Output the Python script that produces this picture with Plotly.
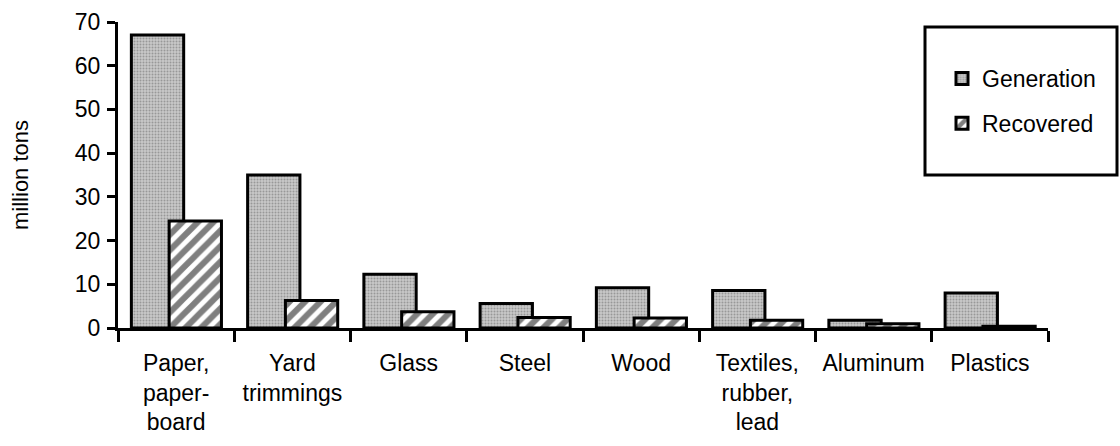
import plotly.graph_objects as go

categories = ["Paper,<br>paper-<br>board", "Yard<br>trimmings", "Glass", "Steel", "Wood",
              "Textiles,<br>rubber,<br>lead", "Aluminum", "Plastics"]
generation = [67.0, 35.0, 12.3, 5.6, 9.2, 8.6, 1.8, 8.0]
recovered = [24.5, 6.3, 3.7, 2.4, 2.3, 1.8, 1.0, 0.4]
y_ticks = [0, 10, 20, 30, 40, 50, 60, 70]

FONT = "Liberation Sans, Arial, Helvetica, sans-serif"
W, H = 1120, 446
L, R, T, B = 118, 72, 22, 118
pw, ph = W - L - R, H - T - B

def px_x(p):
    return (p - L) / pw

def px_y(p):
    return (H - B - p) / ph

fig = go.Figure()
fig.add_trace(go.Bar(
    x=categories, y=generation, name="Generation", legendgroup="g",
    offset=-0.385, width=0.45,
    marker=dict(color="#bdbdbd", line=dict(color="black", width=3),
                pattern=dict(shape=".", bgcolor="#c8c8c8", fgcolor="#686868",
                             size=3, solidity=0.35)),
))
fig.add_trace(go.Bar(
    x=categories, y=recovered, name="Recovered", legendgroup="r",
    offset=-0.06, width=0.45,
    marker=dict(color="white", line=dict(color="black", width=3),
                pattern=dict(shape="/", bgcolor="white", fgcolor="black",
                             size=11, solidity=0.55)),
))

# legend frame
fig.add_shape(type="rect", xref="paper", yref="paper",
              x0=px_x(925), x1=px_x(1117), y0=px_y(175), y1=px_y(27),
              line=dict(color="black", width=3), fillcolor="white", layer="below")

fig.update_layout(
    width=W, height=H,
    margin=dict(l=L, r=R, t=T, b=B, autoexpand=False),
    paper_bgcolor="white", plot_bgcolor="white",
    barmode="overlay",
    font=dict(family=FONT, size=23, color="black"),
    showlegend=True,
    legend=dict(x=px_x(942), y=px_y(57), xanchor="left", yanchor="top",
                bgcolor="rgba(0,0,0,0)", borderwidth=0,
                traceorder="grouped", tracegroupgap=12,
                font=dict(family=FONT, size=23, color="black")),
    xaxis=dict(type="category", range=[-0.5, 7.5], showgrid=False, zeroline=False,
               showline=True, linecolor="black", linewidth=3,
               tickson="boundaries", ticks="outside", ticklen=11, tickwidth=3,
               tickcolor="black", ticklabelstandoff=12, automargin=False,
               tickfont=dict(family=FONT, size=23, color="black")),
    xaxis2=dict(overlaying="x", anchor="y", side="bottom", range=[-0.5, 7.5],
                tickmode="array", tickvals=[i - 0.5 for i in range(9)],
                ticks="inside", ticklen=7, tickwidth=3, tickcolor="black",
                showticklabels=False, showgrid=False, zeroline=False, showline=False),
    yaxis=dict(range=[0, 70], tickmode="array", tickvals=y_ticks,
               showgrid=False, zeroline=False,
               showline=True, linecolor="black", linewidth=3,
               ticks="outside", ticklen=8, tickwidth=3, tickcolor="black",
               ticklabelstandoff=2, automargin=False,
               tickfont=dict(family=FONT, size=23, color="black")),
    yaxis2=dict(overlaying="y", anchor="x", side="left", range=[0, 70],
                tickmode="array", tickvals=y_ticks,
                ticks="inside", ticklen=8, tickwidth=3, tickcolor="black",
                showticklabels=False, showgrid=False, zeroline=False, showline=False),
    annotations=[dict(text="million tons", xref="paper", yref="paper",
                      x=px_x(20), y=0.5, xanchor="center", yanchor="middle",
                      textangle=-90, showarrow=False,
                      font=dict(family=FONT, size=22, color="black"))],
)

fig.write_html("out.html", config={"displayModeBar": False},
               post_script="document.body.style.margin='0';document.body.style.padding='0';")
